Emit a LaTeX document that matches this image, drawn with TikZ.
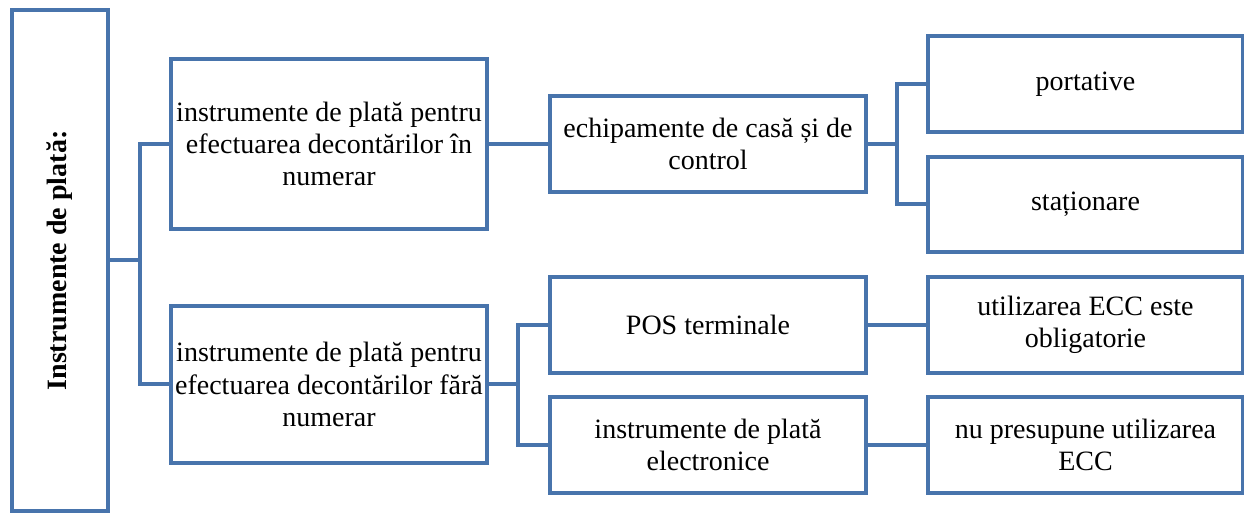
\documentclass[tikz,border=0pt]{standalone}
\usepackage{fontspec}
\setmainfont{Liberation Serif}
\definecolor{blu}{RGB}{72,116,172}
\begin{document}
\begin{tikzpicture}[x=0.5pt,y=-0.5pt,
  box/.style={draw=blu, line width=2pt, align=center, inner sep=0pt,
    font=\fontsize{14}{16.2}\selectfont, text=black},
  conn/.style={draw=blu, line width=2pt}]
\useasboundingbox (0,0) rectangle (1244,513);
% nodes
\node[box, minimum width=48pt, minimum height=250.5pt] (root) at (60,260.5)
  {\rotatebox{90}{\bfseries Instrumente de plată:}};
\node[box, minimum width=158pt, minimum height=85pt] (A) at (329,144)
  {instrumente de plată pentru\\efectuarea decontărilor în\\numerar};
\node[box, minimum width=158pt, minimum height=78.5pt] (B) at (329,384.5)
  {instrumente de plată pentru\\efectuarea decontărilor fără\\numerar};
\node[box, minimum width=158pt, minimum height=48pt] (C) at (708,144)
  {echipamente de casă și de\\control};
\node[box, minimum width=158pt, minimum height=48pt] (D) at (708,325)
  {POS terminale};
\node[box, minimum width=158pt, minimum height=48pt] (E) at (708,445)
  {instrumente de plată\\electronice};
\node[box, minimum width=157.5pt, minimum height=48pt] (F) at (1085.5,84)
  {portative};
\node[box, minimum width=157.5pt, minimum height=47.5pt] (G) at (1085.5,204.5)
  {staționare};
\node[box, minimum width=157.5pt, minimum height=48pt] (H) at (1085.5,325)
  {utilizarea ECC este\\obligatorie};
\node[box, minimum width=157.5pt, minimum height=48pt] (I) at (1085.5,445)
  {nu presupune utilizarea\\ECC};
% junctions
\coordinate (t1) at (140,260.5);
\coordinate (t2) at (897,144);
\coordinate (t3) at (518,384.5);
% connectors
\draw[conn] (root.east) -- (t1);
\draw[conn] (A.west) -| (t1);
\draw[conn] (B.west) -| (t1);
\draw[conn] (A.east) -- (C.west);
\draw[conn] (C.east) -- (t2);
\draw[conn] (F.west) -| (t2);
\draw[conn] (G.west) -| (t2);
\draw[conn] (B.east) -- (t3);
\draw[conn] (D.west) -| (t3);
\draw[conn] (E.west) -| (t3);
\draw[conn] (D.east) -- (H.west);
\draw[conn] (E.east) -- (I.west);
\end{tikzpicture}
\end{document}
